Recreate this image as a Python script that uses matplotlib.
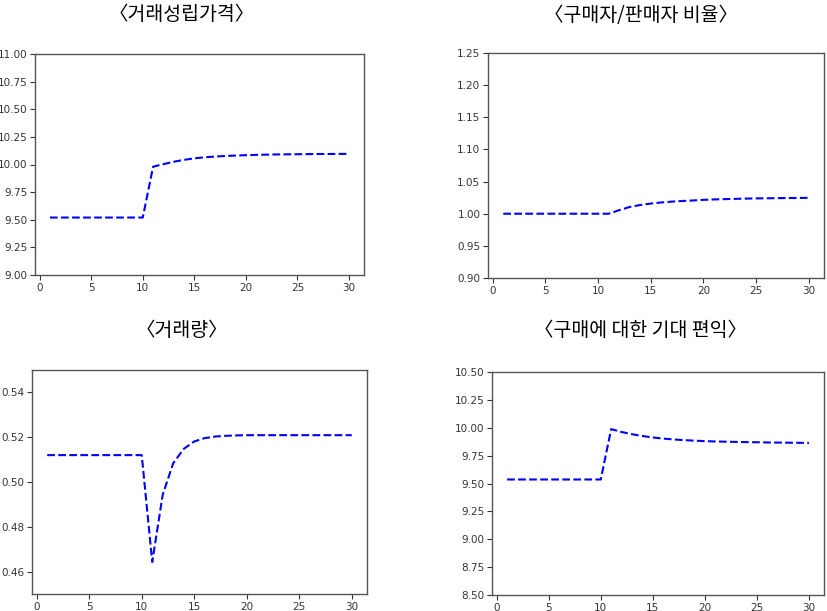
import numpy as np
import matplotlib
matplotlib.use('Agg')
import matplotlib.pyplot as plt
from matplotlib.ticker import FormatStrFormatter

plt.rcParams['font.family'] = ['DejaVu Sans']

## time steps
t = list(range(1, 31))

## values
price = [9.52] * 10 + [9.98, 10.003, 10.025, 10.042, 10.056, 10.065, 10.072, 10.077, 10.081, 10.084,
                       10.087, 10.089, 10.091, 10.092, 10.093, 10.094, 10.095, 10.095, 10.096, 10.096]
ratio = [1.0] * 11 + [1.0055, 1.0105, 1.0135, 1.0158, 1.0175, 1.0188, 1.0198, 1.0206, 1.0216,
                      1.0222, 1.0227, 1.0231, 1.0235, 1.0238, 1.0240, 1.0242, 1.0244, 1.0245, 1.0247]
volume = [0.512] * 10 + [0.4643, 0.4944, 0.5084, 0.5148, 0.5181, 0.5196, 0.5203, 0.5206, 0.5208, 0.5209,
                         0.5209, 0.5209, 0.5209, 0.5209, 0.5209, 0.5209, 0.5209, 0.5209, 0.5209, 0.5209]
benefit = [9.536] * 10 + [9.988, 9.962, 9.942, 9.926, 9.913, 9.903, 9.895, 9.889, 9.884, 9.880,
                          9.877, 9.875, 9.873, 9.871, 9.870, 9.868, 9.867, 9.866, 9.865, 9.864]

titles = ['〈거래성립가격〉', '〈구매자/판매자 비율〉', '〈거래량〉', '〈구매에 대한 기대 편익〉']

W, H = 827, 611
fig = plt.figure(figsize=(W / 100, H / 100), dpi=100)

## axes boxes in pixels: (left, top, right, bottom)
boxes = [(35, 54, 364, 275), (488, 53, 824, 278), (32, 370, 367, 594), (492, 372, 824, 595)]
title_pos = [(182, 15), (641, 15), (182, 331), (640, 331)]
series = [price, ratio, volume, benefit]
ylims = [(9.0, 11.0), (0.90, 1.25), (0.45, 0.55), (8.5, 10.5)]
yticks = [np.arange(9.0, 11.01, 0.25), np.arange(0.90, 1.251, 0.05),
          np.arange(0.46, 0.541, 0.02), np.arange(8.5, 10.51, 0.25)]

for i in range(4):
    l, tp, r, b = boxes[i]
    ax = fig.add_axes([l / W, 1 - b / H, (r - l) / W, (b - tp) / H])
    ax.plot(t, series[i], 'b--', lw=1.5)
    ax.set_ylim(*ylims[i])
    ax.set_yticks(yticks[i])
    ax.set_xticks([0, 5, 10, 15, 20, 25, 30])
    ax.yaxis.set_major_formatter(FormatStrFormatter('%.2f'))
    ax.tick_params(labelsize=7.5, length=3.5, width=0.8, colors='#333333', pad=2)
    for s in ax.spines.values():
        s.set_color('#555555')
        s.set_linewidth(1.0)
    x, y = title_pos[i]
    fig.text(x / W, 1 - y / H, titles[i], ha='center', va='center', fontsize=14,
             family=['Noto Sans CJK KR', 'DejaVu Sans'])

fig.savefig('out.png', dpi=100)
